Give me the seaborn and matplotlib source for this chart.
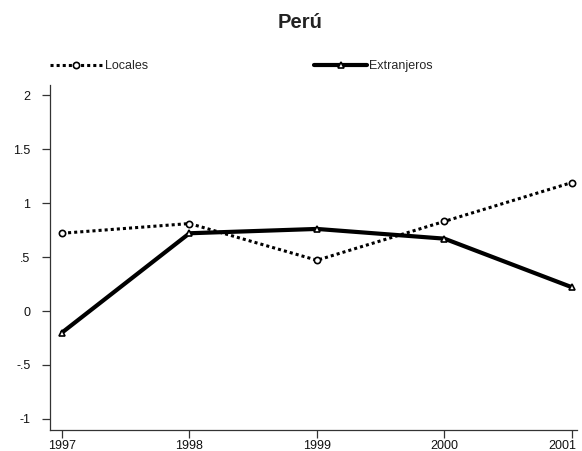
import matplotlib
matplotlib.use("Agg")
import matplotlib.pyplot as plt
import matplotlib.transforms as mtransforms
import seaborn as sns
import pandas as pd

years = [1997, 1998, 1999, 2000, 2001]
locales = [0.72, 0.81, 0.47, 0.83, 1.19]
extranjeros = [-0.20, 0.72, 0.76, 0.67, 0.22]
ytick_vals = [-1, -0.5, 0, 0.5, 1, 1.5, 2]
ytick_labels = ["-1", "-.5", "0", ".5", "1", "1.5", "2"]
title = "Perú"

sns.set_style("ticks")
plt.rcParams["font.family"] = ["Liberation Sans", "DejaVu Sans"]

df_loc = pd.DataFrame({"year": years, "value": locales})
df_ext = pd.DataFrame({"year": years, "value": extranjeros})

W, H = 582, 451
fig = plt.figure(figsize=(W / 100, H / 100), dpi=100)
left, right, top, bottom = 50, 577, 85, 430
ax = fig.add_axes([left / W, 1 - bottom / H, (right - left) / W, (bottom - top) / H])

sns.lineplot(data=df_loc, x="year", y="value", ax=ax, color="black",
             linewidth=2.2, marker="o", markersize=4.5, markerfacecolor="white",
             markeredgecolor="black", markeredgewidth=1.2, label="Locales")
sns.lineplot(data=df_ext, x="year", y="value", ax=ax, color="black",
             linewidth=3.0, marker="^", markersize=5, markerfacecolor="white",
             markeredgecolor="black", markeredgewidth=1.2, label="Extranjeros")
ax.lines[0].set_linestyle((0, (1.0, 1.0)))
ax.lines[0].set_dash_capstyle("butt")

ax.set_xlim(1996.906, 2001.04)
ax.set_ylim(-1.102, 2.093)
ax.set_xticks(years)
ax.set_xticklabels([str(y) for y in years])
ax.set_yticks(ytick_vals)
ax.set_yticklabels(ytick_labels)
ax.set_xlabel("")
ax.set_ylabel("")
for s in ["top", "right"]:
    ax.spines[s].set_visible(False)
for s in ["left", "bottom"]:
    ax.spines[s].set_color("#333333")
    ax.spines[s].set_linewidth(0.9)
ax.tick_params(axis="both", direction="out", length=6, width=0.9, color="#333333",
               labelsize=9, labelcolor="#111111")
ax.tick_params(axis="x", pad=1.5)
ax.tick_params(axis="y", pad=8)

# keep the last x tick label inside the figure
last = ax.get_xticklabels()[-1]
last.set_transform(last.get_transform() +
                   mtransforms.ScaledTranslation(-10 / 100, 0, fig.dpi_scale_trans))

handles, labels = ax.get_legend_handles_labels()
ax.get_legend().remove()
fig.legend(handles, labels, loc="center left",
           bbox_to_anchor=(left / W, 1 - 66 / H), ncol=2, frameon=False,
           fontsize=9, handlelength=4.2, handletextpad=0.2,
           columnspacing=13.3, borderpad=0, borderaxespad=0, numpoints=1)

fig.text(300 / W, 1 - 23 / H, title, ha="center", va="center",
         fontsize=14.5, fontweight="bold", color="#222222")

fig.savefig("out.png", dpi=100, facecolor="white")
